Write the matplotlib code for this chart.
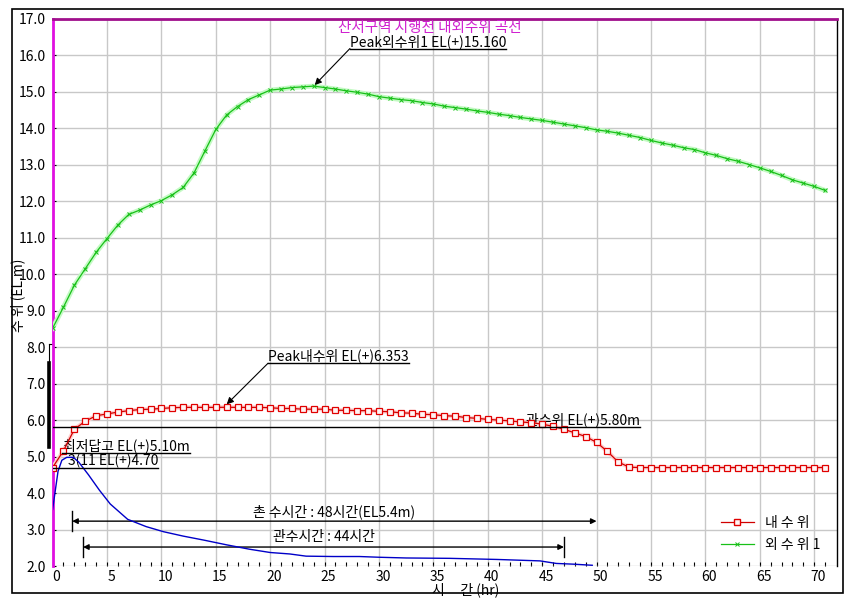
import numpy as np
import matplotlib
matplotlib.use('Agg')
import matplotlib.pyplot as plt
import matplotlib.transforms as mtransforms
from matplotlib.lines import Line2D
from matplotlib.patches import Rectangle

plt.rcParams['font.family'] = ['Liberation Sans Narrow', 'Noto Sans CJK KR', 'DejaVu Sans']

# hourly water levels (EL.m)
hours = np.arange(0, 72)
inner_level = [4.70, 5.16, 5.75, 5.97, 6.12, 6.17, 6.22, 6.26, 6.29, 6.30,
               6.32, 6.34, 6.35, 6.35, 6.35, 6.35, 6.353, 6.35, 6.35, 6.35,
               6.34, 6.32, 6.32, 6.30, 6.30, 6.30, 6.27, 6.27, 6.26, 6.26,
               6.24, 6.23, 6.20, 6.19, 6.16, 6.15, 6.12, 6.11, 6.07, 6.05,
               6.02, 6.00, 5.98, 5.95, 5.93, 5.89, 5.83, 5.75, 5.65, 5.55,
               5.39, 5.14, 4.85, 4.71, 4.70, 4.70, 4.70, 4.70, 4.70, 4.70,
               4.70, 4.70, 4.70, 4.70, 4.70, 4.70, 4.70, 4.70, 4.70, 4.70,
               4.70, 4.70]
outer_level = [8.52, 9.10, 9.70, 10.15, 10.60, 10.98, 11.35, 11.64, 11.76, 11.90,
               12.02, 12.18, 12.38, 12.78, 13.38, 13.97, 14.37, 14.60, 14.79, 14.92,
               15.05, 15.08, 15.12, 15.14, 15.16, 15.12, 15.08, 15.03, 14.99, 14.94,
               14.87, 14.83, 14.79, 14.76, 14.71, 14.67, 14.61, 14.57, 14.53, 14.48,
               14.44, 14.39, 14.35, 14.30, 14.26, 14.22, 14.17, 14.12, 14.07, 14.02,
               13.96, 13.92, 13.87, 13.81, 13.75, 13.67, 13.60, 13.54, 13.47, 13.42,
               13.33, 13.26, 13.17, 13.10, 13.01, 12.92, 12.82, 12.71, 12.59, 12.50,
               12.41, 12.30]

# blue curve (no legend entry)
blue_t = [0, 0.5, 0.85, 1.3, 1.9, 2.4, 3.3, 4.3, 5.3, 6.9, 8.6, 10.2, 12.0, 13.9,
          16.0, 18.1, 20.0, 21.8, 23.3, 25.8, 28.2, 30.0, 32.5, 36.5, 40.8, 44.8,
          46.3, 47.9, 49.6]
blue_v = [3.55, 4.60, 4.90, 4.98, 4.98, 4.85, 4.50, 4.08, 3.70, 3.28, 3.08, 2.94,
          2.82, 2.71, 2.58, 2.46, 2.37, 2.33, 2.27, 2.26, 2.26, 2.24, 2.22, 2.21,
          2.18, 2.14, 2.07, 2.05, 2.02]

peak_outer = (24, 15.16)
peak_inner = (16, 6.353)
ground_el = 5.10
sill_el = 4.70
control_el = 5.80
pump_span = (1.8, 50.0)     # 48 hr
gate_span = (2.8, 47.0)     # 44 hr

fig = plt.figure(figsize=(8.55, 6.03), dpi=100)
W, H = 855, 603
ax = fig.add_axes([52.6 / W, 1 - 566 / H, (837 - 52.6) / W, (566 - 19) / H])
fig.add_artist(Rectangle((12 / W, 1 - 593 / H), (843 - 12) / W, (593 - 9) / H,
                         transform=fig.transFigure, fill=False, ec='black', lw=1.2))

ax.set_xlim(0, 72.1)
ax.set_ylim(2, 17)
ax.set_xticks(np.arange(0, 71, 5))
ax.set_xticks(np.arange(0, 72, 1), minor=True)
ax.set_yticks(np.arange(2, 18, 1))
ax.set_yticklabels(['%.1f' % v for v in np.arange(2, 18, 1)])
ax.grid(True, color='#c8c8c8', lw=1)
ax.tick_params(axis='x', which='both', direction='in', length=3, width=0.8,
               labelsize=10, pad=3)
ax.tick_params(axis='y', direction='in', length=2, width=0.8, labelsize=10, pad=5)
off = mtransforms.ScaledTranslation(4 / 100, 0, fig.dpi_scale_trans)
for lab in ax.get_xticklabels():
    lab.set_transform(lab.get_transform() + off)

ax.spines['bottom'].set_visible(False)
ax.spines['left'].set_color('#e010e0')
ax.spines['left'].set_linewidth(2)
ax.spines['top'].set_color('#a0108c')
ax.spines['top'].set_linewidth(2)
ax.spines['right'].set_linewidth(1)

# series
ax.plot(hours, outer_level, color='#c4fac4', lw=3.5, zorder=3)
ax.plot(hours, outer_level, color='#18c018', lw=0.9, marker='x', ms=3.5, mew=0.7, zorder=4)
ax.plot(hours, inner_level, color='#ffd0d0', lw=3, zorder=3)
ax.plot(hours, inner_level, color='#d00000', lw=0.9, marker='s', ms=4,
        mfc='#fff4f4', mec='#e00000', mew=0.9, zorder=4)
ax.plot(blue_t, blue_v, color='#0000c8', lw=1, zorder=4)

# odd black bar left of the axis
ax.plot([-0.33, -0.33], [5.26, 8.1], color='black', lw=0.8, clip_on=False)
ax.plot([-0.33, 0], [8.1, 8.1], color='black', lw=0.8, clip_on=False)
ax.plot([-0.33, -0.33], [5.26, 7.56], color='black', lw=2.6, clip_on=False)

ax.text(0.481, 0.983, '산서구역 시행전 내외수위 곡선', transform=ax.transAxes,
        ha='center', va='center', color='#d020d0', fontsize=10.5)


def uline_text(x, y, s):
    return ax.annotate(s, xy=(x, y), xytext=(0, 2), textcoords='offset points',
                       ha='left', va='baseline', fontsize=10)


# underlined annotations
ut = []
t1 = uline_text(27.33, 16.19, 'Peak외수위1 EL(+)15.160')
ut.append((t1, 16.19, None))
ax.annotate('', xy=peak_outer, xytext=(27.33, 16.19),
            arrowprops=dict(arrowstyle='-|>', color='black', lw=0.8, mutation_scale=10,
                            shrinkA=0, shrinkB=1))
t2 = uline_text(19.8, 7.56, 'Peak내수위 EL(+)6.353')
ut.append((t2, 7.56, None))
ax.annotate('', xy=(peak_inner[0], peak_inner[1] + 0.08), xytext=(19.8, 7.56),
            arrowprops=dict(arrowstyle='-|>', color='black', lw=0.8, mutation_scale=10,
                            shrinkA=0, shrinkB=0))
t3 = uline_text(1.0, ground_el, '최저답고 EL(+)5.10m')
ut.append((t3, ground_el, 0.9))
t4 = uline_text(1.4, sill_el, '3(11 EL(+)4.70')
ut.append((t4, sill_el, 0.0))
ax.annotate('관수위 EL(+)5.80m', xy=(54.0, control_el), xytext=(0, 2),
            textcoords='offset points', ha='right', va='baseline', fontsize=10)
ax.plot([0, 54.0], [control_el, control_el], color='black', lw=1, zorder=5)

# span arrows
for (a, b), yv, txt, ty, bars in [(pump_span, 3.23, '촌 수시간 : 48시간(EL5.4m)', 3.48, (True, False)),
                                  (gate_span, 2.52, '관수시간 : 44시간', 2.80, (True, True))]:
    ax.annotate('', xy=(a, yv), xytext=(b, yv),
                arrowprops=dict(arrowstyle='<|-|>', color='black', lw=1,
                                mutation_scale=8, shrinkA=0, shrinkB=0))
    for x, show in zip((a, b), bars):
        if show:
            ax.plot([x, x], [yv - 0.27, yv + 0.27], color='black', lw=1)
    ax.text((a + b) / 2, ty, txt, ha='center', va='center', fontsize=10)

fig.canvas.draw()
r = fig.canvas.get_renderer()
inv = ax.transData.inverted()
for t, yv, xs in ut:
    bb = t.get_window_extent(r)
    x0 = inv.transform((bb.x0, bb.y0))[0]
    x1 = inv.transform((bb.x1, bb.y0))[0]
    if xs is not None:
        x0 = xs
    ax.plot([x0, x1], [yv, yv], color='black', lw=1, zorder=5)

handles = [Line2D([], [], color='#d00000', lw=0.9, marker='s', ms=4, mfc='#fff4f4', mec='#e00000'),
           Line2D([], [], color='#18c018', lw=0.9, marker='x', ms=3.5, mew=0.7)]
ax.legend(handles, ['내 수 위', '외 수 위 1'], loc='upper left',
          bbox_to_anchor=(708 / W, 1 - 503 / H), bbox_transform=fig.transFigure,
          frameon=False, fontsize=10, handlelength=2.4, labelspacing=0.6)

fig.text(18 / W, 1 - 295 / H, '수 위 (EL.m)', rotation=90, ha='center', va='center', fontsize=10)
fig.text(466 / W, 1 - 590 / H, '시     간 (hr)', ha='center', va='center', fontsize=10)

fig.savefig('out.png', dpi=100)
